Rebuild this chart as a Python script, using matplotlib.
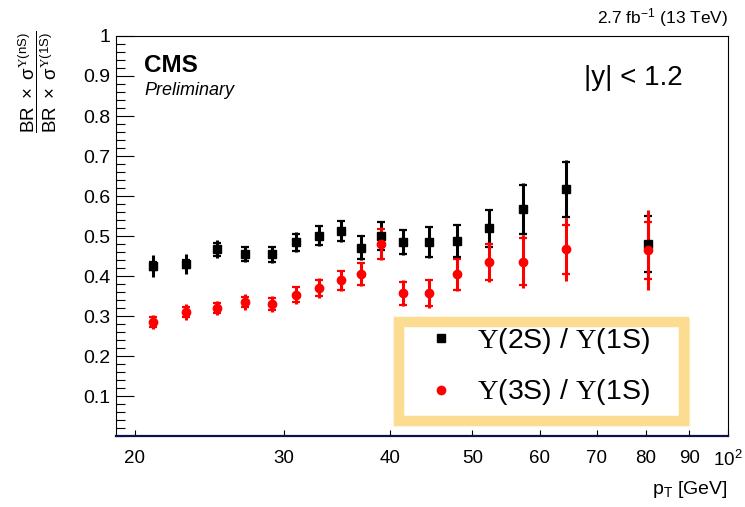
import matplotlib
matplotlib.use("Agg")
import matplotlib.pyplot as plt
from matplotlib.lines import Line2D
from matplotlib.patches import Rectangle
from matplotlib.ticker import FixedLocator, FixedFormatter, NullLocator, MultipleLocator

plt.rcParams['font.family'] = ['Liberation Sans', 'DejaVu Sans']
plt.rcParams['mathtext.fontset'] = 'custom'
plt.rcParams['mathtext.rm'] = 'Liberation Serif'
plt.rcParams['mathtext.sf'] = 'Liberation Sans'
plt.rcParams['mathtext.it'] = 'Liberation Sans:italic'

# pT bins (GeV) and ratios
pt = [21.0, 23.0, 25.0, 27.0, 29.0, 31.0, 33.0, 35.0, 37.0, 39.0,
      41.4, 44.4, 48.0, 52.3, 57.4, 64.4, 80.6]

r2s = [0.425, 0.430, 0.467, 0.455, 0.454, 0.484, 0.501, 0.512, 0.471, 0.500,
       0.485, 0.484, 0.487, 0.519, 0.567, 0.617, 0.480]
r2s_tot = [0.028, 0.026, 0.023, 0.020, 0.022, 0.025, 0.027, 0.028, 0.031, 0.038,
           0.033, 0.040, 0.044, 0.048, 0.065, 0.072, 0.074]
r2s_in = [0.010, 0.010, 0.016, 0.017, 0.018, 0.021, 0.023, 0.025, 0.028, 0.035,
          0.031, 0.0375, 0.040, 0.046, 0.061, 0.069, 0.071]

r3s = [0.285, 0.310, 0.320, 0.335, 0.330, 0.353, 0.370, 0.389, 0.405, 0.481,
       0.357, 0.357, 0.404, 0.434, 0.436, 0.467, 0.464]
r3s_tot = [0.018, 0.020, 0.018, 0.019, 0.019, 0.022, 0.024, 0.027, 0.031, 0.041,
           0.032, 0.036, 0.041, 0.050, 0.067, 0.079, 0.100]
r3s_in = [0.013, 0.013, 0.013, 0.013, 0.015, 0.019, 0.021, 0.024, 0.0275, 0.0375,
          0.029, 0.033, 0.038, 0.045, 0.059, 0.061, 0.072]

labels = [r"$\Upsilon$(2S) / $\Upsilon$(1S)", r"$\Upsilon$(3S) / $\Upsilon$(1S)"]
xticks = [20, 30, 40, 50, 60, 70, 80, 90, 100]
xticklabels = ["20", "30", "40", "50", "60", "70", "80", "90", r"$\mathsf{10^{2}}$"]
yticks = [0.1, 0.2, 0.3, 0.4, 0.5, 0.6, 0.7, 0.8, 0.9, 1.0]
yticklabels = ["0.1", "0.2", "0.3", "0.4", "0.5", "0.6", "0.7", "0.8", "0.9", "1"]

fig = plt.figure(figsize=(7.45, 5.07), dpi=100)
ax = fig.add_axes([0.1553, 0.1400, 0.8219, 0.7890])

series = [(r2s, r2s_tot, r2s_in, 'black', 's'), (r3s, r3s_tot, r3s_in, 'red', 'o')]
for vals, tot, inner, c, m in series:
    ax.errorbar(pt, vals, yerr=tot, fmt='none', ecolor=c, elinewidth=2.2)
    ax.errorbar(pt, vals, yerr=inner, fmt=m, color=c, ms=6, mec=c,
                elinewidth=0, capsize=2.8, capthick=1.6)

ax.set_xscale('log')
ax.set_xlim(19.0, 100)
ax.set_ylim(0, 1)
ax.xaxis.set_major_locator(FixedLocator(xticks))
ax.xaxis.set_major_formatter(FixedFormatter(xticklabels))
ax.xaxis.set_minor_locator(NullLocator())
ax.yaxis.set_major_locator(FixedLocator(yticks))
ax.yaxis.set_major_formatter(FixedFormatter(yticklabels))
ax.yaxis.set_minor_locator(MultipleLocator(0.02))
ax.tick_params(axis='x', which='major', direction='in', length=4.5, width=0.8,
               labelsize=13.5, pad=10)
ax.tick_params(axis='y', which='major', direction='in', length=13, width=0.8,
               labelsize=14, pad=4)
ax.tick_params(axis='y', which='minor', direction='in', length=6.5, width=0.8)

for sp in ['left', 'top', 'right']:
    ax.spines[sp].set_linewidth(0.8)
ax.spines['bottom'].set_color('#10104a')
ax.spines['bottom'].set_linewidth(1.6)

# legend box with thick yellow brush-like frame
ax.add_patch(Rectangle((0.462, 0.038), 0.466, 0.246, transform=ax.transAxes,
                       fill=False, ec='#fbdc90', lw=7.5, zorder=1))
ax.add_patch(Rectangle((0.456, 0.031), 0.478, 0.26, transform=ax.transAxes,
                       fill=False, ec='#fbdc90', lw=2.5, alpha=0.45, zorder=1))
handles = [Line2D([], [], marker='s', color='black', ls='none', ms=6),
           Line2D([], [], marker='o', color='red', ls='none', ms=6)]
ax.legend(handles, labels, loc='center', bbox_to_anchor=(0.69, 0.173),
          frameon=False, fontsize=20.5, handlelength=1.0, handletextpad=0.75,
          labelspacing=0.75)

ax.text(0.047, 0.925, "CMS", transform=ax.transAxes, fontsize=17.5,
        fontweight='bold', va='center', ha='left')
ax.text(0.047, 0.865, "Preliminary", transform=ax.transAxes, fontsize=13,
        fontstyle='italic', va='center', ha='left')
ax.text(0.765, 0.895, "|y| < 1.2", transform=ax.transAxes, fontsize=20,
        va='center', ha='left')

fig.text(728 / 745, 1 - 18 / 507, r"2.7 fb$^{\mathsf{-1}}$ (13 TeV)",
         fontsize=12.5, ha='right', va='center')
fig.text(728 / 745, 1 - 490 / 507, r"p$_{\mathsf{T}}$ [GeV]",
         fontsize=14, ha='right', va='center')
fig.text(38 / 745, 1 - 31 / 507,
         r"$\dfrac{\mathsf{BR\ \times\ \sigma}^{\Upsilon\mathsf{(nS)}}}"
         r"{\mathsf{BR\ \times\ \sigma}^{\Upsilon\mathsf{(1S)}}}$",
         fontsize=13.5, rotation=90, ha='center', va='top')

fig.savefig("out.png", dpi=100)
